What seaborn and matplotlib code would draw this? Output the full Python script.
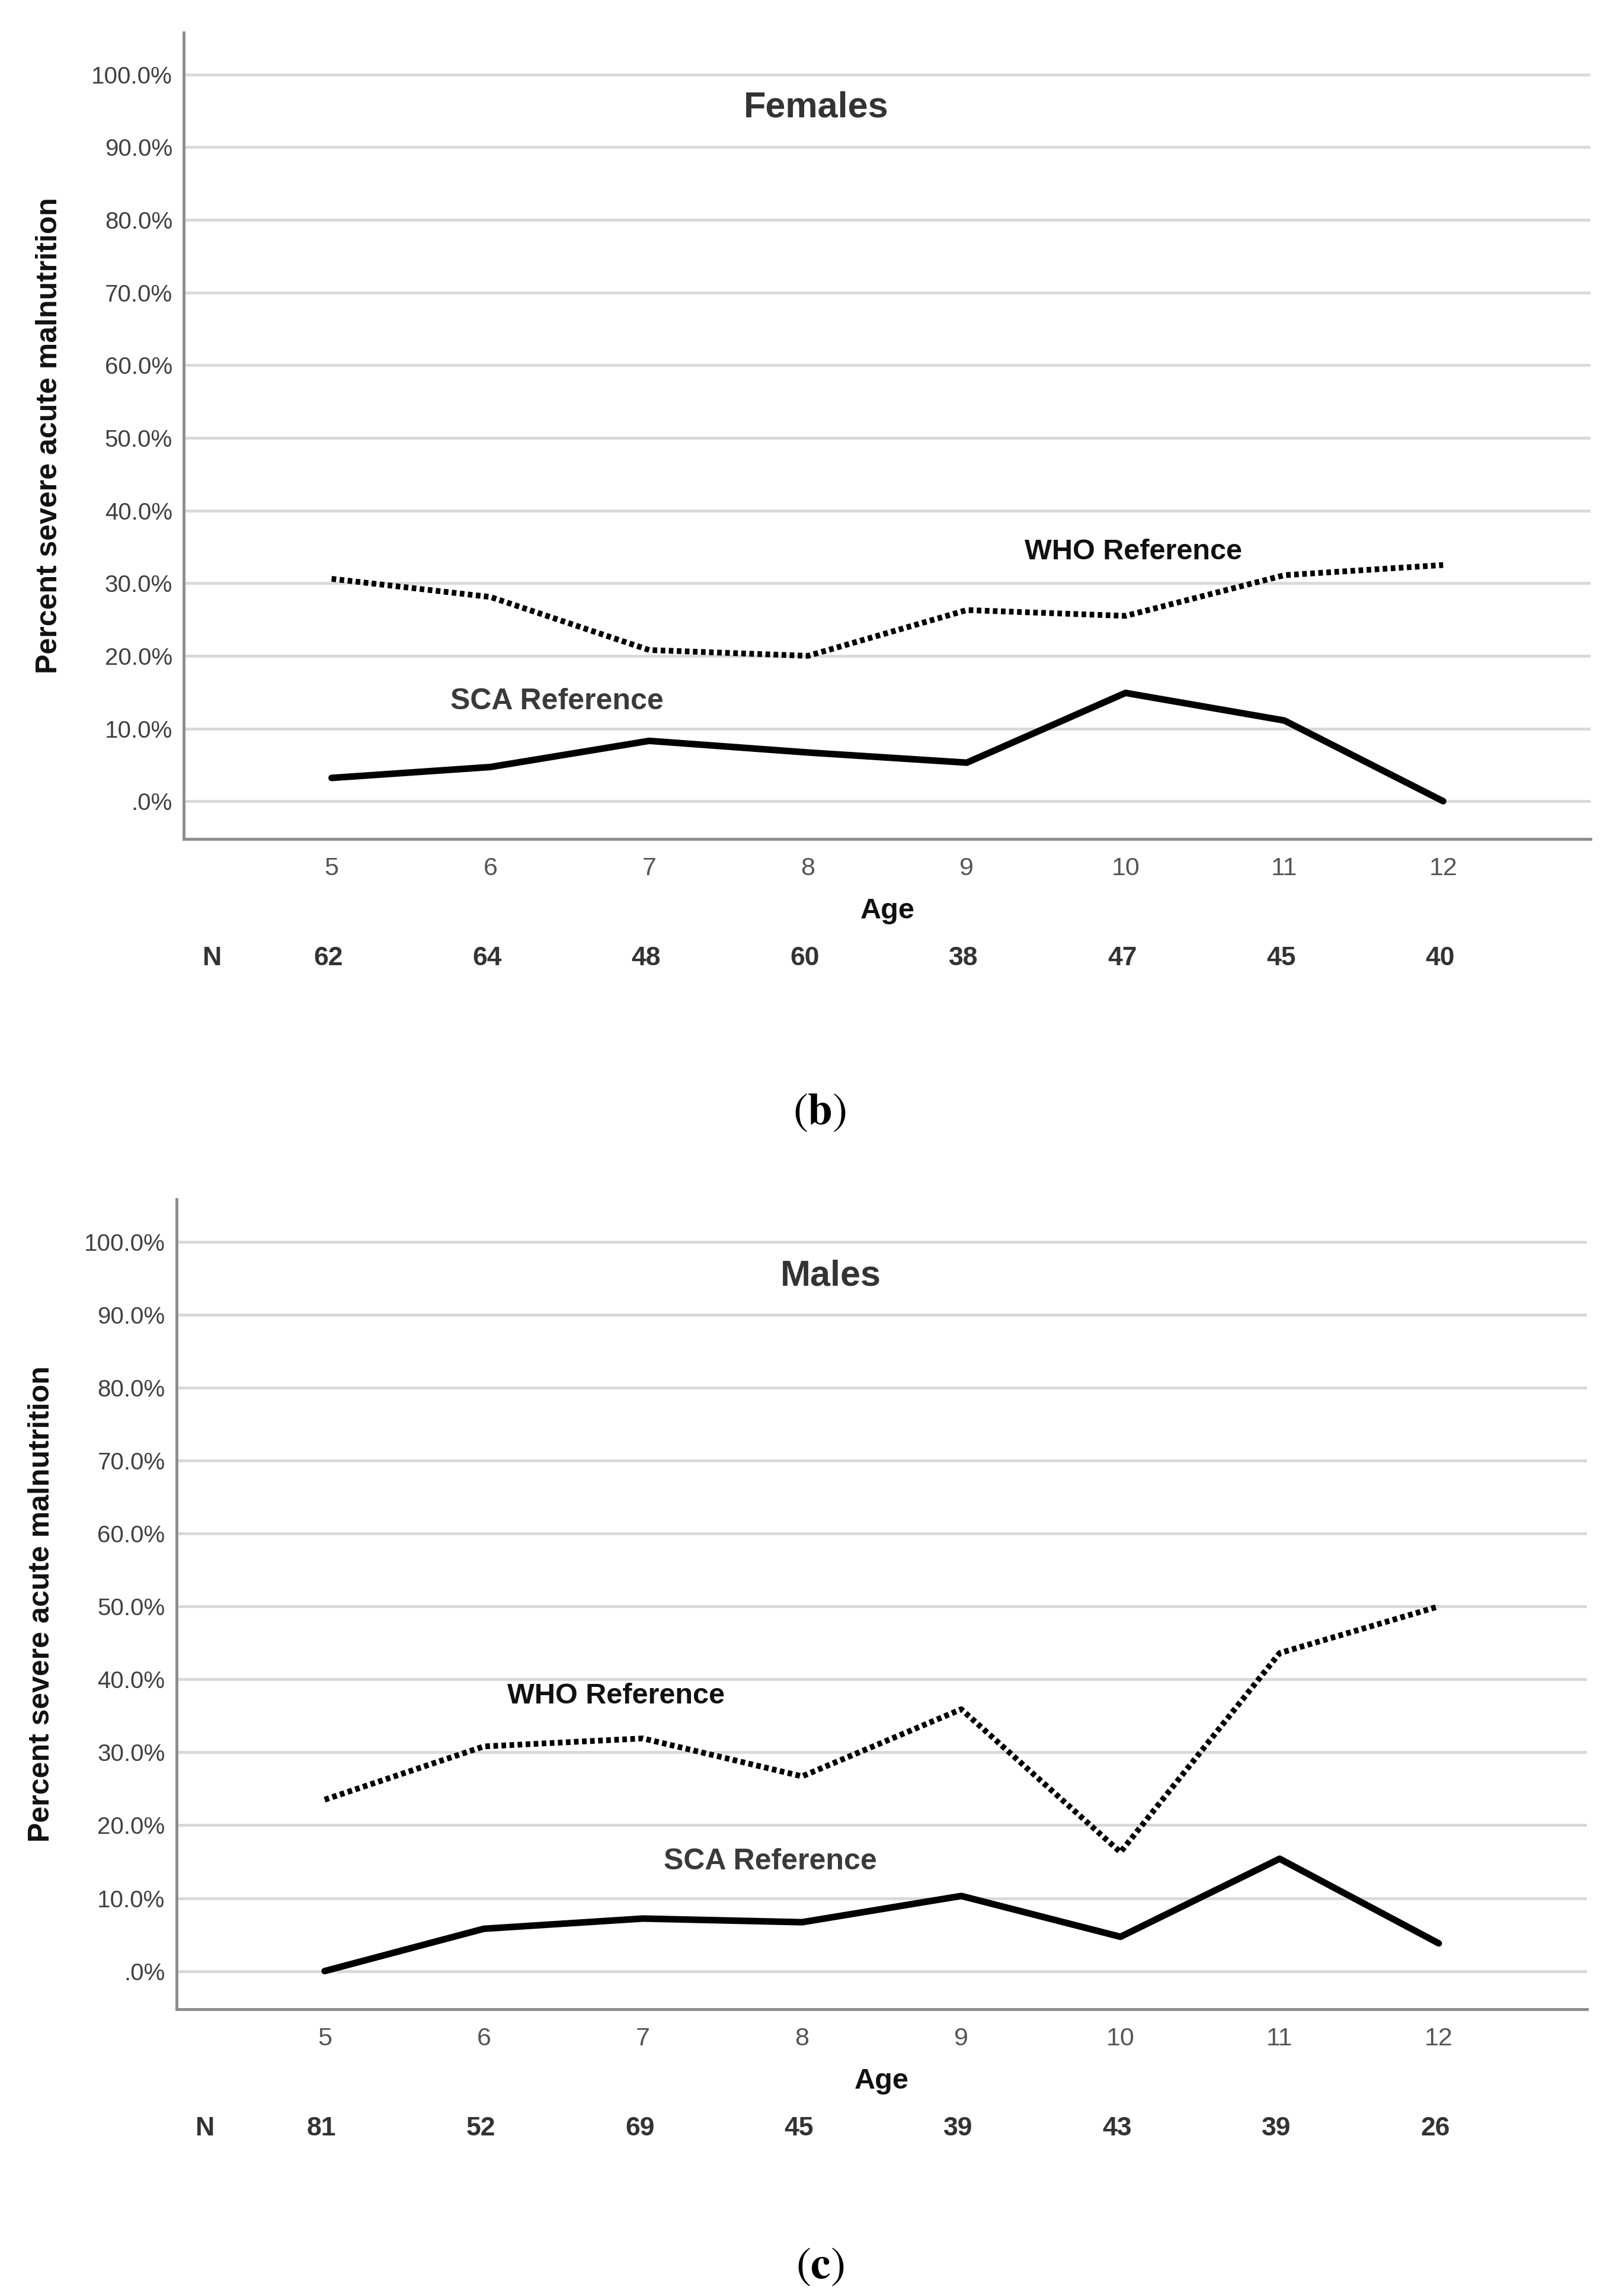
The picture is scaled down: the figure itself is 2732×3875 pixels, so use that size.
import seaborn as sns
import matplotlib.pyplot as plt
from matplotlib.ticker import FuncFormatter
import matplotlib.transforms as mtransforms

sns.set_style('white')
plt.rcParams['font.family'] = ['Liberation Sans', 'DejaVu Sans']
plt.rcParams['mathtext.fontset'] = 'stix'

# values
ages = [5, 6, 7, 8, 9, 10, 11, 12]
female_sca = [3.2, 4.7, 8.3, 6.7, 5.3, 14.9, 11.1, 0.0]
female_who = [30.6, 28.1, 20.8, 20.0, 26.3, 25.5, 31.1, 32.5]
female_n = [62, 64, 48, 60, 38, 47, 45, 40]
male_sca = [0.0, 5.8, 7.2, 6.7, 10.3, 4.7, 15.4, 3.8]
male_who = [23.5, 30.8, 31.9, 26.7, 35.9, 16.3, 43.6, 50.0]
male_n = [81, 52, 69, 45, 39, 43, 39, 26]
y_ticks = [0, 10, 20, 30, 40, 50, 60, 70, 80, 90, 100]

panels = [
    dict(rect=[0.1136, 0.6346, 0.8690, 0.3513], title='Females', sca=female_sca, who=female_who,
         n=female_n, title_pos=(8.05, 95.4), who_pos=(10.05, 34.3), sca_pos=(6.42, 13.7), tag='b', tag_y=0.5154),
    dict(rect=[0.1091, 0.1250, 0.8710, 0.3526], title='Males', sca=male_sca, who=male_who,
         n=male_n, title_pos=(8.18, 95.3), who_pos=(6.83, 37.7), sca_pos=(7.80, 15.0), tag='c', tag_y=0.0128),
]

fig = plt.figure(figsize=(27.32, 38.75), dpi=100)


def pct(v, pos):
    s = f'{v:.1f}%'
    return s[1:] if s.startswith('0') else s


for p in panels:
    ax = fig.add_axes(p['rect'])
    ax.set_axisbelow(True)
    ax.grid(axis='y', color='#d9d9d9', linewidth=3.5)
    ax.grid(axis='x', visible=False)

    sns.lineplot(x=ages, y=p['who'], ax=ax, color='black', linewidth=7,
                 linestyle=(0, (0.8, 0.6)), dash_capstyle='butt')
    sns.lineplot(x=ages, y=p['sca'], ax=ax, color='black', linewidth=8)

    ax.set_xlim(4.07, 12.93)
    ax.set_ylim(-5.2, 105.8)
    ax.set_xticks(ages)
    ax.set_yticks(y_ticks)
    ax.yaxis.set_major_formatter(FuncFormatter(pct))
    ax.tick_params(axis='y', length=0, pad=14, labelsize=29, labelcolor='#404040')
    ax.tick_params(axis='x', length=0, pad=22, labelsize=31, labelcolor='#555555')

    for side in ['top', 'right']:
        ax.spines[side].set_visible(False)
    for side in ['left', 'bottom']:
        ax.spines[side].set_color('#8c8c8c')
        ax.spines[side].set_linewidth(3.5)

    ax.set_xlabel('Age', fontsize=35, fontweight='bold', color='#111111')
    ax.xaxis.set_label_coords(0.5, -0.073)
    ax.set_ylabel('Percent severe acute malnutrition', fontsize=36, fontweight='bold', color='#111111')
    ax.yaxis.set_label_coords(-0.086, 0.5)

    ax.text(*p['title_pos'], p['title'], fontsize=44, fontweight='bold', color='#333333',
            ha='center', va='center')
    ax.text(*p['who_pos'], 'WHO Reference', fontsize=35, fontweight='bold', color='#111111',
            ha='center', va='center')
    ax.text(*p['sca_pos'], 'SCA Reference', fontsize=36, fontweight='bold', color='#3a3a3a',
            ha='center', va='center')

    # sample size row under the axis
    trans = mtransforms.blended_transform_factory(ax.transData, ax.transAxes)
    ax.text(4.25, -0.148, 'N', transform=trans, fontsize=32, fontweight='bold',
            color='#333333', ha='center', va='center')
    for a, n in zip(ages, p['n']):
        ax.text(a - 0.02, -0.148, str(n), transform=trans, fontsize=32, fontweight='bold',
                color='#333333', ha='center', va='center')

    fig.text(0.5064, p['tag_y'], r'$(\mathbf{' + p['tag'] + r'})$', fontsize=54,
             ha='center', va='center', color='black')

fig.savefig('out.png', dpi=100)
plt.close(fig)
